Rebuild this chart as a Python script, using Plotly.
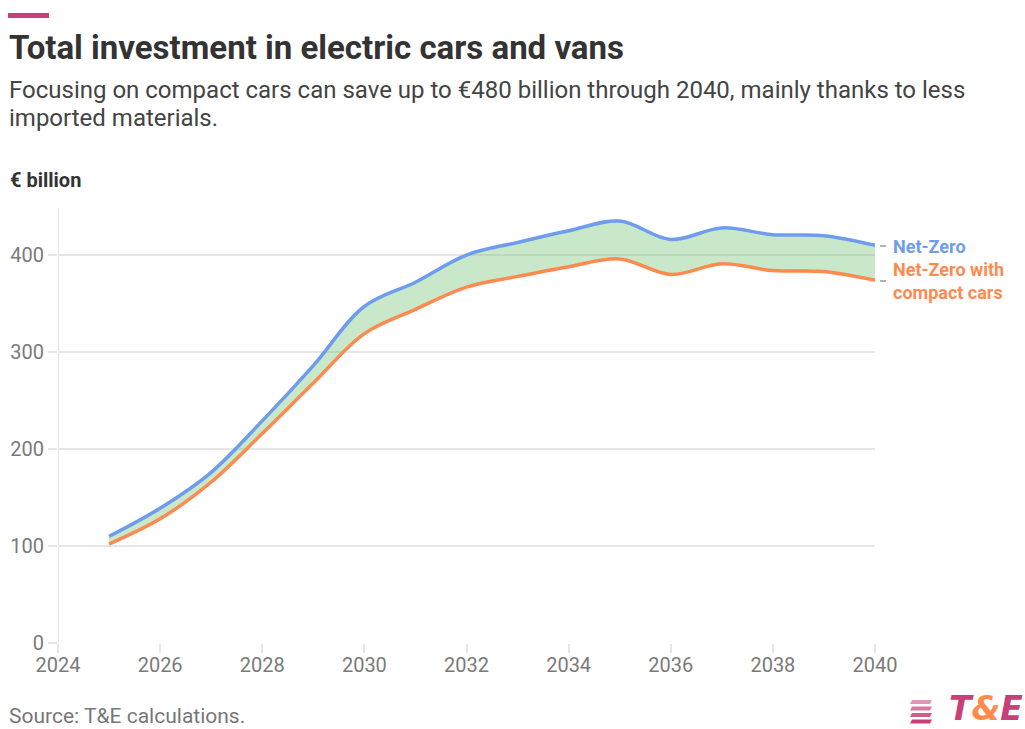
import plotly.graph_objects as go

# Yearly totals, € billion
years = [2025, 2026, 2027, 2028, 2029, 2030, 2031, 2032, 2033, 2034, 2035, 2036, 2037, 2038, 2039, 2040]
net_zero = [110, 139, 176, 229, 286, 347, 372, 400, 413, 425, 435, 416, 428, 421, 420, 410]
net_zero_compact = [102, 128, 166, 216, 268, 319, 344, 367, 378, 388, 396, 380, 391, 384, 383, 374]

x_ticks = [2024, 2026, 2028, 2030, 2032, 2034, 2036, 2038, 2040]
y_ticks = [0, 100, 200, 300, 400]

BLUE = "#6f9cec"
ORANGE = "#fe8a4f"
FILL = "rgba(120,195,120,0.40)"
GRID = "#e6e6e6"
FONT = "Roboto"

W, H = 1025, 729
L, R, T, B = 58, 150, 208, 86
Y_MAX = 448.5


def px(x):
    return (x - L) / (W - L - R)


def py(y):
    return (H - B - y) / (H - T - B)


fig = go.Figure()

# shaded gap between the two scenarios
fig.add_trace(go.Scatter(x=years, y=net_zero_compact, mode="lines",
                         line=dict(width=0, shape="spline", color=ORANGE),
                         hoverinfo="skip", showlegend=False))
fig.add_trace(go.Scatter(x=years, y=net_zero, mode="lines", fill="tonexty",
                         fillcolor=FILL, line=dict(width=0, shape="spline", color=BLUE),
                         hoverinfo="skip", showlegend=False))
# scenario lines
fig.add_trace(go.Scatter(x=years, y=net_zero_compact, mode="lines", name="Net-Zero with compact cars",
                         line=dict(width=3.5, shape="spline", color=ORANGE), showlegend=False))
fig.add_trace(go.Scatter(x=years, y=net_zero, mode="lines", name="Net-Zero",
                         line=dict(width=3.5, shape="spline", color=BLUE), showlegend=False))

fig.update_xaxes(range=[2024, 2040], tickvals=x_ticks, showgrid=False, zeroline=False,
                 showline=False, ticks="outside", ticklen=9, tickwidth=2, tickcolor=GRID,
                 ticklabelstandoff=-5,
                 tickfont=dict(family=FONT, size=20, color="#7a7a7a"), fixedrange=True)
fig.update_yaxes(range=[0, Y_MAX], tickvals=y_ticks, showgrid=True, gridcolor=GRID, gridwidth=2,
                 zeroline=False, showline=False, ticks="outside", ticklen=9, tickwidth=2,
                 tickcolor=GRID, tickfont=dict(family=FONT, size=20, color="#7a7a7a"),
                 fixedrange=True)

shapes = [
    # vertical axis line at the left edge of the plot
    dict(type="line", xref="x", yref="paper", x0=2024, x1=2024, y0=0, y1=1,
         line=dict(color=GRID, width=2), layer="below"),
    # accent bar above the title
    dict(type="rect", xref="paper", yref="paper", x0=px(8), x1=px(49), y0=py(18), y1=py(13),
         fillcolor="#c8407a", line=dict(width=0)),
    # leader dashes for the end labels
    dict(type="line", xref="paper", yref="paper", x0=px(880), x1=px(886), y0=py(246), y1=py(246),
         line=dict(color="#999999", width=1.5)),
    dict(type="line", xref="paper", yref="paper", x0=px(880), x1=px(886), y0=py(281), y1=py(281),
         line=dict(color="#999999", width=1.5)),
]

# logo stripes: slanted bars fading towards the left
stripe_rows = [(700, 0.55), (706.5, 0.7), (713, 0.85), (719.5, 1.0)]
for yy, op in stripe_rows:
    top, bot = yy, yy + 4
    shapes.append(dict(type="path", xref="paper", yref="paper",
                       path=(f"M {px(910)},{py(bot)} L {px(930)},{py(bot)} "
                             f"L {px(932)},{py(top)} L {px(912)},{py(top)} Z"),
                       fillcolor="#c8407a", opacity=op, line=dict(width=0)))

fig.update_layout(shapes=shapes)

annotations = [
    dict(text="<b>Total investment in electric cars and vans</b>", x=px(7), y=py(47),
         font=dict(family=FONT, size=33, color="#333333")),
    dict(text="Focusing on compact cars can save up to €480 billion through 2040, mainly thanks to less",
         x=px(7), y=py(90), font=dict(family=FONT, size=24, color="#444444")),
    dict(text="imported materials.", x=px(7), y=py(118), font=dict(family=FONT, size=24, color="#444444")),
    dict(text="<b>€ billion</b>", x=px(8), y=py(180), font=dict(family=FONT, size=20, color="#333333")),
    dict(text="Source: T&E calculations.", x=px(7), y=py(716), font=dict(family=FONT, size=21, color="#777777")),
    dict(text="<b>Net-Zero</b>", x=px(891), y=py(246), font=dict(family=FONT, size=18, color=BLUE)),
    dict(text="<b>Net-Zero with<br>compact cars</b>", x=px(891), y=py(281),
         font=dict(family=FONT, size=18, color=ORANGE)),
]
for a in annotations:
    a.update(xanchor="left", yanchor="middle")
annotations.append(
    dict(text="<b><i>T<span style='color:#ff8a4a'>&amp;</span>E</i></b>", x=px(1024), y=py(728.5),
         xanchor="right", yanchor="bottom", borderpad=0,
         font=dict(family="DejaVu Sans", size=33, color="#c8407a")))
for a in annotations:
    a.update(xref="paper", yref="paper", showarrow=False, align="left")
fig.update_layout(annotations=annotations)

fig.update_layout(width=W, height=H, margin=dict(l=L, r=R, t=T, b=B, autoexpand=False),
                  paper_bgcolor="white", plot_bgcolor="white", showlegend=False,
                  font=dict(family=FONT))

fig.write_html("out.html", config={"displayModeBar": False})
